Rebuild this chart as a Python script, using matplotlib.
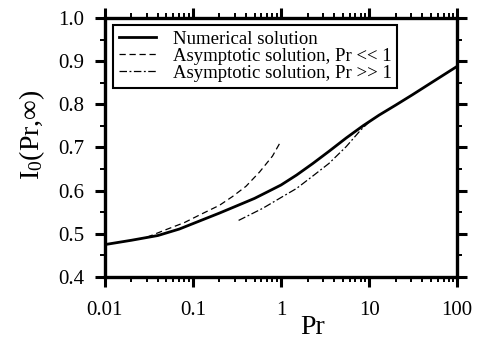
import matplotlib
matplotlib.use("Agg")
import matplotlib.pyplot as plt
from matplotlib.ticker import (LogLocator, MultipleLocator, FixedFormatter,
                               FixedLocator, FormatStrFormatter)

plt.rcParams["font.family"] = ["Liberation Serif", "DejaVu Serif"]
plt.rcParams["mathtext.fontset"] = "custom"
plt.rcParams["mathtext.rm"] = "Liberation Serif"
plt.rcParams["mathtext.it"] = "Liberation Serif:italic"

# numerical solution I0(Pr, inf)
pr_num = [0.01, 0.02, 0.04, 0.07, 0.12, 0.2, 0.3, 0.5, 0.7, 1.0, 1.5, 2.3,
          3.5, 5.5, 8.5, 13, 20, 31, 50, 100]
i0_num = [0.475, 0.485, 0.496, 0.511, 0.530, 0.548, 0.563, 0.582, 0.597, 0.613,
          0.636, 0.663, 0.691, 0.722, 0.750, 0.775, 0.798, 0.822, 0.849, 0.888]

# asymptotic solution, Pr << 1
pr_small = [0.03, 0.05, 0.08, 0.12, 0.2, 0.28, 0.4, 0.57, 0.8, 1.0]
i0_small = [0.492, 0.510, 0.526, 0.544, 0.566, 0.586, 0.610, 0.643, 0.680, 0.715]

# asymptotic solution, Pr >> 1
pr_large = [0.33, 0.62, 1.0, 1.5, 2.3, 3.5, 5.5, 8.0, 10]
i0_large = [0.531, 0.559, 0.584, 0.605, 0.634, 0.663, 0.702, 0.740, 0.759]

x_ticks = [0.01, 0.1, 1, 10, 100]
x_ticklabels = ["0.01", "0.1", "1", "10", "100"]

fig = plt.figure(figsize=(4.9, 3.39), dpi=100)
ax = fig.add_axes([0.214, 0.183, 0.719, 0.764])

ax.plot(pr_num, i0_num, color="black", lw=2.0, label="Numerical solution")
ax.plot(pr_small, i0_small, color="black", lw=0.9, ls=(0, (5, 3)),
        label="Asymptotic solution, Pr << 1")
ax.plot(pr_large, i0_large, color="black", lw=0.9, ls=(0, (6, 2, 1.5, 2)),
        label="Asymptotic solution, Pr >> 1")

ax.set_xscale("log")
ax.set_xlim(0.01, 100)
ax.set_ylim(0.4, 1.0)
ax.xaxis.set_major_locator(FixedLocator(x_ticks))
ax.xaxis.set_major_formatter(FixedFormatter(x_ticklabels))
ax.xaxis.set_minor_locator(LogLocator(base=10, subs=range(2, 10)))
ax.xaxis.set_minor_formatter(FixedFormatter([]))
ax.yaxis.set_major_locator(MultipleLocator(0.1))
ax.yaxis.set_minor_locator(MultipleLocator(0.05))
ax.yaxis.set_major_formatter(FormatStrFormatter("%.1f"))

for sp in ax.spines.values():
    sp.set_linewidth(2.4)
ax.tick_params(which="both", direction="out", top=True, right=True)
ax.tick_params(which="major", length=7, width=2.2, labelsize=15)
ax.tick_params(which="minor", length=3.5, width=1.4)
ax.tick_params(axis="y", which="major", pad=8)
ax.tick_params(axis="x", which="major", pad=10)

ax.set_xlabel("Pr", fontsize=20)
ax.xaxis.set_label_coords(0.59, -0.145)
ax.set_ylabel(r"I$_0$(Pr,∞)", fontsize=20)
ax.yaxis.set_label_coords(-0.165, 0.548)

leg = ax.legend(loc="upper left", bbox_to_anchor=(0.023, 0.973), borderaxespad=0,
                fontsize=13.5, frameon=True, fancybox=False, handlelength=2.0,
                handletextpad=0.9, labelspacing=0.0, borderpad=0.3)
leg.get_frame().set_edgecolor("black")
leg.get_frame().set_linewidth(1.5)
leg.get_frame().set_alpha(1)

fig.savefig("out.png", dpi=100)
